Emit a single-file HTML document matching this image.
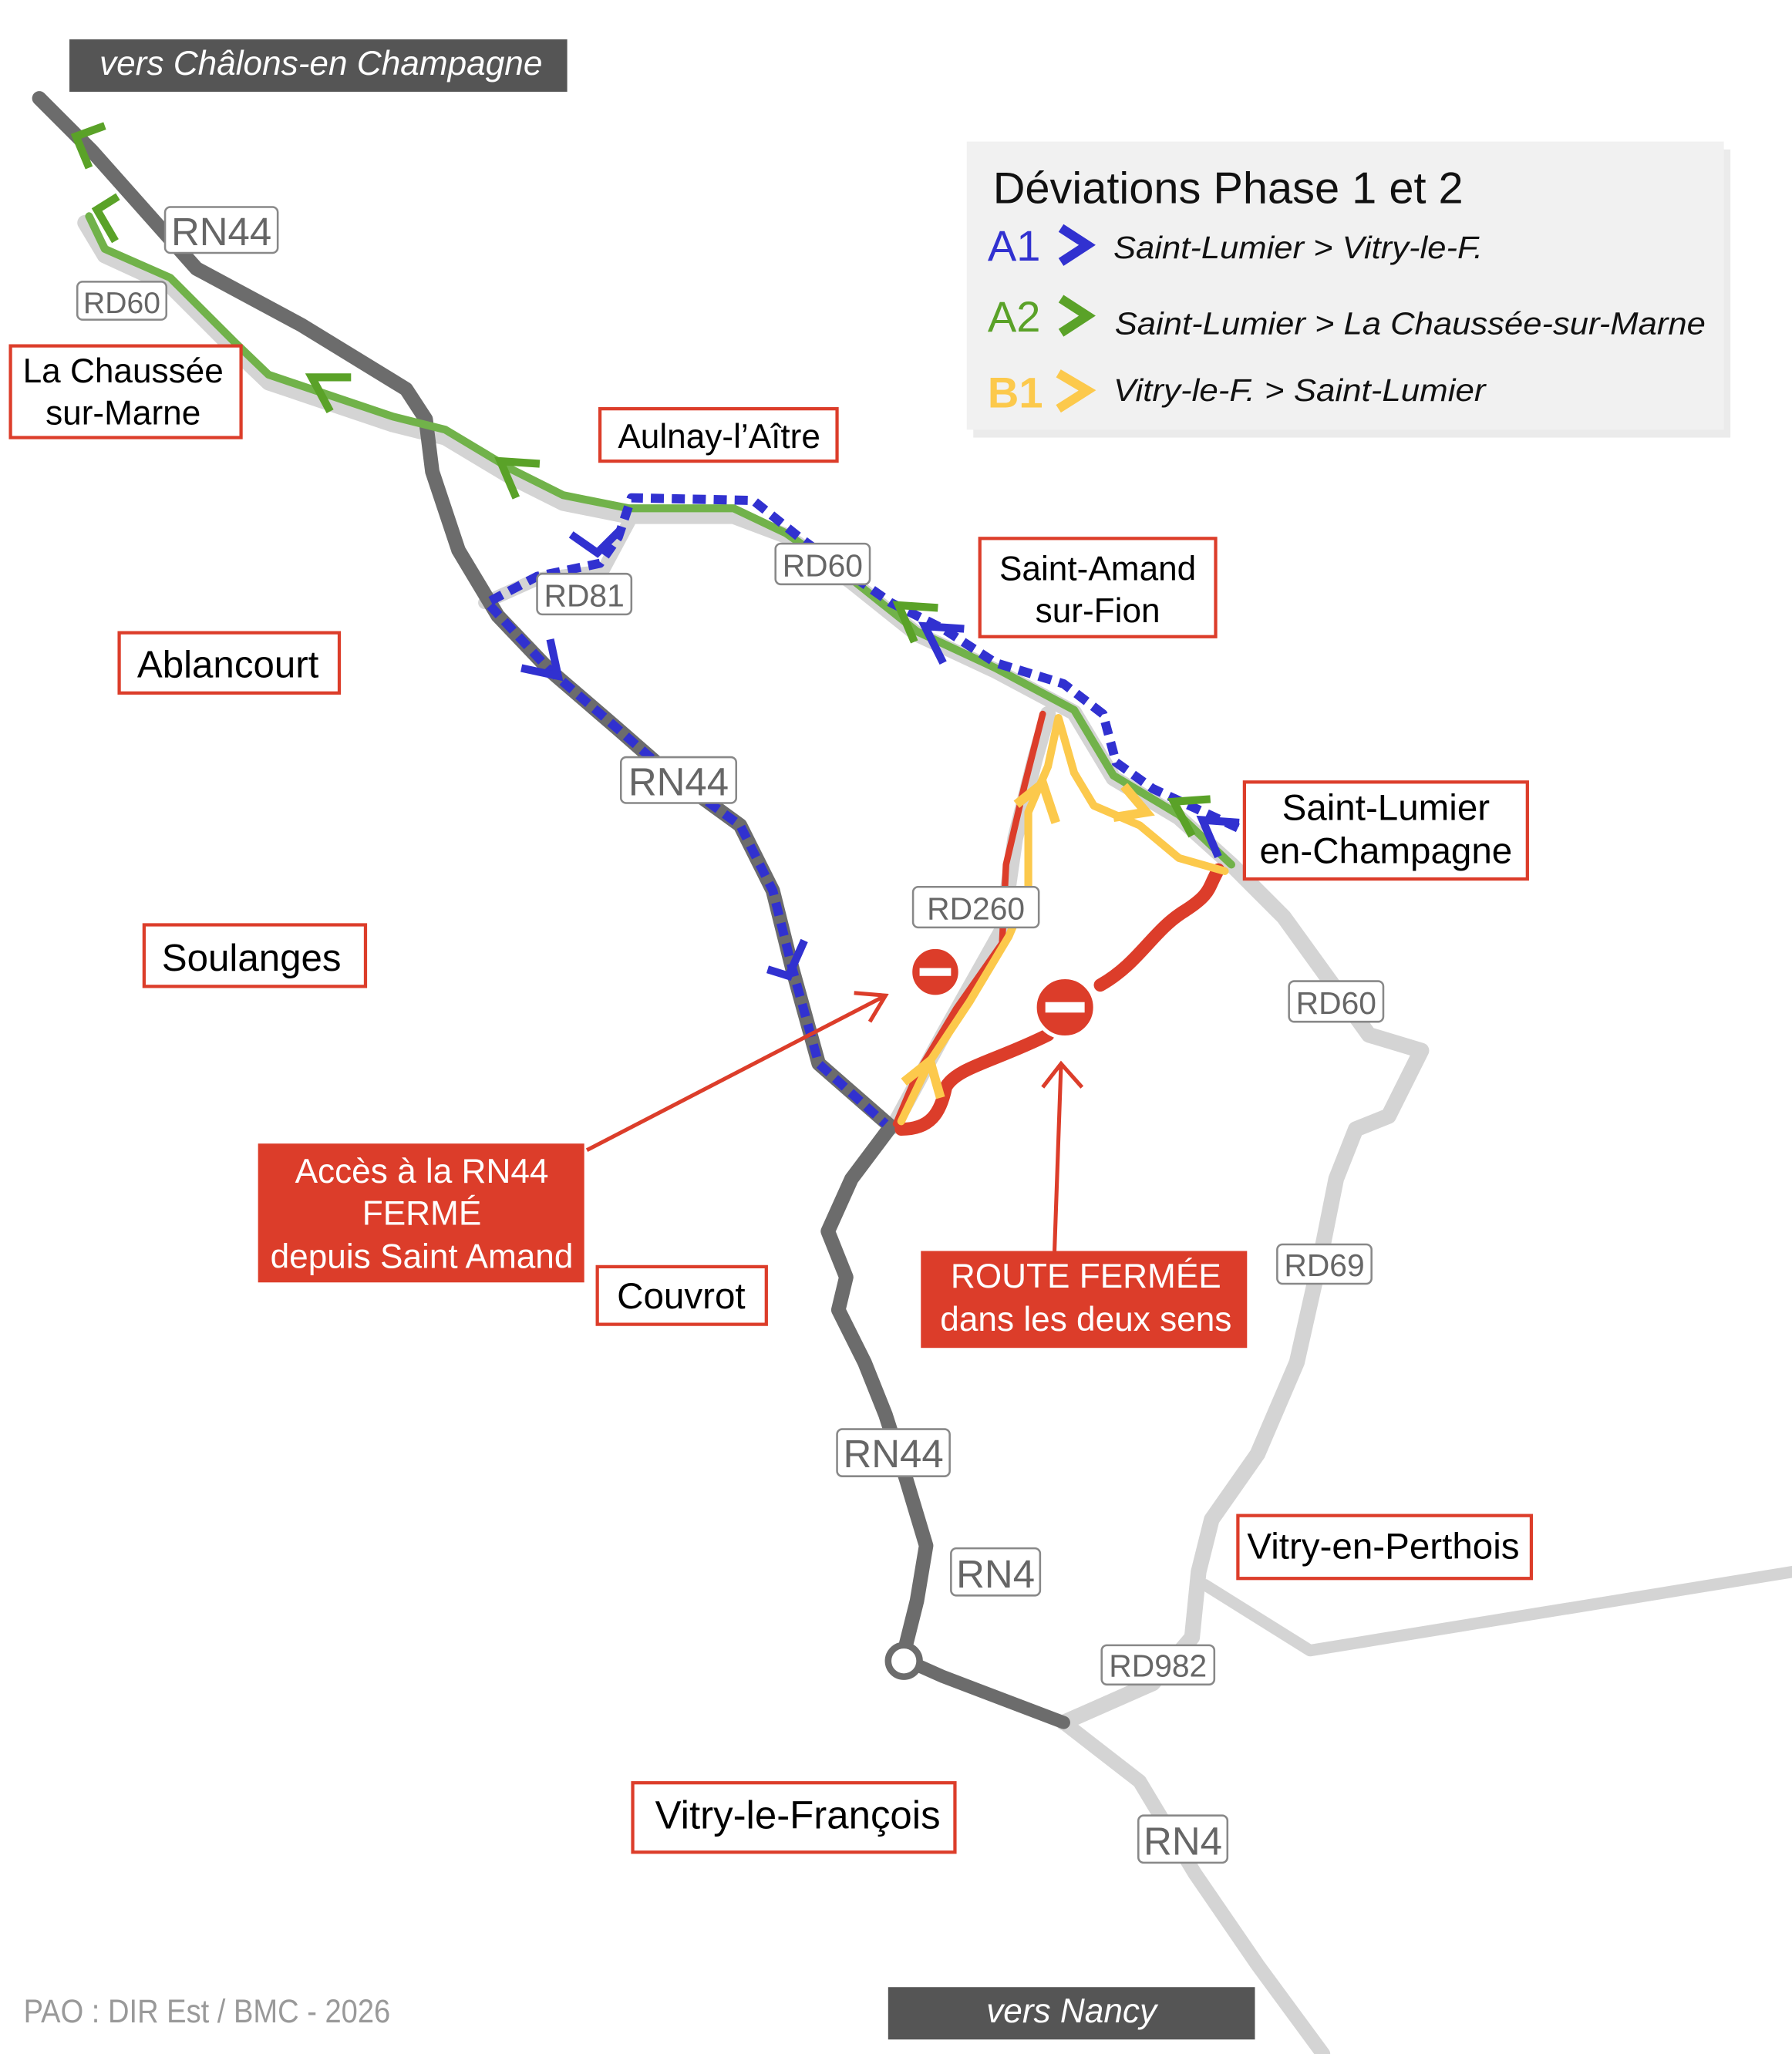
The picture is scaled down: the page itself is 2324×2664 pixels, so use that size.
<!DOCTYPE html>
<html><head><meta charset="utf-8"><style>
html,body{margin:0;padding:0;background:#fff}
svg{display:block}
text{font-family:"Liberation Sans",sans-serif}
</style></head><body>
<svg width="2324" height="2664" viewBox="0 0 1368 1568" xmlns="http://www.w3.org/2000/svg">
<rect width="1368" height="1568" fill="#fff"/>
<g fill="none" stroke-linecap="round" stroke-linejoin="round">
<!-- light roads -->
<path d="M65,170 L80,195 L130,218 L180,268 L205,292 L300,324 L340,334 L390,364 L430,384 L480,394 L560,394 L600,409 L650,444 L700,484 L760,512 L820,544 L850,594 L900,624 L940,660 L980,700 L1045,790 L1085,802 L1060,852 L1035,862 L1020,900 L1008,960 L990,1040 L960,1110 L925,1160 L915,1200 L910,1250 L880,1285 L812,1315" stroke="#d4d4d4" stroke-width="12"/>
<path d="M920,1210 L1000,1260 L1368,1200" stroke="#d4d4d4" stroke-width="9"/>
<path d="M812,1315 L870,1360 L912,1430 L960,1500 L1010,1568" stroke="#d4d4d4" stroke-width="11"/>
<path d="M370,460 L410,442 L460,436 L482,395" stroke="#d4d4d4" stroke-width="10"/>
<path d="M682,860 L720,790 L765,710 L775,640 L790,580 L800,545" stroke="#d4d4d4" stroke-width="12"/>
<!-- RN44 -->
<path d="M30,75 L70,115 L150,205 L230,248 L310,297 L325,320 L330,360 L350,420 L380,470 L420,512 L470,555 L510,590 L565,630 L590,680 L605,740 L625,812 L680,860 L650,900 L632,940 L646,975 L640,1000 L660,1040 L676,1080 L692,1130 L707,1180 L700,1222 L690,1262" stroke="#6c6c6c" stroke-width="11"/>
<path d="M702,1272 L720,1280 L812,1315" stroke="#6c6c6c" stroke-width="10"/>
<!-- green -->
<path d="M940,660 L900,622 L850,592 L820,542 L760,510 L700,482 L650,442 L600,407 L560,388 L480,388 L430,378 L390,358 L340,328 L300,318 L205,286 L180,262 L130,212 L80,190 L68,165" stroke="#71b24a" stroke-width="6"/>
<!-- blue dotted -->
<path d="M945,632 L880,602 L852,582 L842,545 L812,522 L760,506 L720,480 L680,460 L640,432 L610,410 L575,382 L482,380 L472,410 L458,430 L410,440 L372,460 L420,512 L470,555 L510,590 L565,630 L590,680 L605,740 L625,812 L676,858" stroke="#3131d0" stroke-width="7" stroke-dasharray="10,6" stroke-linecap="butt"/>
<!-- red -->
<path d="M684,858 L700,820 L730,770 L765,720 L768,660 L782,600 L796,545" stroke="#dc3d2a" stroke-width="5"/>
<path d="M688,862 C710,862 718,850 722,830 C730,815 760,810 800,790 M840,752 C870,735 880,710 905,695 C925,682 922,678 930,664" stroke="#dc3d2a" stroke-width="10"/>
<!-- yellow -->
<path d="M688,856 L710,810 L740,765 L770,715 L785,680 L785,620 L800,585 L808,548 L820,590 L835,615 L870,630 L900,655 L935,665" stroke="#fcc94c" stroke-width="6"/>
</g>
<!-- arrowheads -->
<g fill="none" stroke-width="6">
<path d="M80,96 L58,104 L68,128" stroke="#5aa228"/>
<path d="M90,150 L74,160 L88,184" stroke="#5aa228"/>
<path d="M268,288 L238,288 L252,314" stroke="#5aa228"/>
<path d="M412,354 L382,352 L394,380" stroke="#5aa228"/>
<path d="M716,464 L686,462 L698,490" stroke="#5aa228"/>
<path d="M924,610 L896,612 L910,638" stroke="#5aa228"/>
<path d="M736,480 L706,478 L720,506" stroke="#3131d0"/>
<path d="M946,628 L918,626 L930,654" stroke="#3131d0"/>
<path d="M474,404 L456,422 L436,408" stroke="#3131d0"/>
<path d="M398,510 L426,516 L420,488" stroke="#3131d0"/>
<path d="M586,740 L602,745 L614,718" stroke="#3131d0"/>
<path d="M776,614 L796,598 L806,628" stroke="#fcc94c" stroke-width="7"/>
<path d="M690,826 L710,810 L718,838" stroke="#fcc94c" stroke-width="7"/>
<path d="M850,624 L875,620 L858,600" stroke="#fcc94c" stroke-width="7"/>
</g>
<circle cx="690" cy="1268" r="12" fill="#fff" stroke="#6c6c6c" stroke-width="5"/>
<!-- no entry -->
<g><circle cx="714" cy="742" r="19" fill="#dc3d2a" stroke="#fff" stroke-width="3"/><rect x="702" y="739" width="24" height="6" fill="#fff"/>
<circle cx="813" cy="769" r="23" fill="#dc3d2a" stroke="#fff" stroke-width="3"/><rect x="798" y="765" width="30" height="8" fill="#fff"/></g>
<!-- red callout arrows -->
<g stroke="#dc3d2a" stroke-width="3" fill="none">
<path d="M448,878 L676,760 M652,758 L676,760 L664,780"/>
<path d="M805,955 L810,812 M796,830 L810,812 L826,830"/>
</g>
<!-- road labels -->
<g font-size="27" fill="#666" text-anchor="middle">
<g stroke="#888" stroke-width="1.5" fill="#fff">
<rect x="126" y="158" width="86" height="35" rx="4"/><rect x="59" y="215" width="68" height="29" rx="4"/>
<rect x="592" y="415" width="72" height="31" rx="4"/><rect x="410" y="438" width="72" height="31" rx="4"/>
<rect x="474" y="578" width="88" height="35" rx="4"/><rect x="697" y="677" width="96" height="31" rx="4"/>
<rect x="984" y="749" width="72" height="31" rx="4"/><rect x="975" y="950" width="72" height="30" rx="4"/>
<rect x="639" y="1091" width="86" height="36" rx="4"/><rect x="726" y="1182" width="68" height="36" rx="4"/>
<rect x="841" y="1256" width="86" height="30" rx="4"/><rect x="869" y="1386" width="68" height="36" rx="4"/>
</g>
<text x="169" y="187" font-size="30">RN44</text><text x="93" y="239" font-size="23">RD60</text>
<text x="628" y="440" font-size="24">RD60</text><text x="446" y="463" font-size="24">RD81</text>
<text x="518" y="607" font-size="30">RN44</text><text x="745" y="702" font-size="24">RD260</text>
<text x="1020" y="774" font-size="24">RD60</text><text x="1011" y="974" font-size="24">RD69</text>
<text x="682" y="1120" font-size="30">RN44</text><text x="760" y="1212" font-size="30">RN4</text>
<text x="884" y="1280" font-size="24">RD982</text><text x="903" y="1416" font-size="30">RN4</text>
</g>
<!-- town labels -->
<g fill="#fff" stroke="#dc3d2a" stroke-width="2.5">
<rect x="8" y="264" width="176" height="70"/><rect x="458" y="312" width="181" height="40"/>
<rect x="748" y="411" width="180" height="75"/><rect x="91" y="483" width="168" height="46"/>
<rect x="950" y="597" width="216" height="74"/><rect x="110" y="706" width="169" height="47"/>
<rect x="456" y="967" width="129" height="44"/><rect x="945" y="1157" width="224" height="48"/>
<rect x="483" y="1361" width="246" height="53"/>
</g>
<g font-size="26" fill="#000" text-anchor="middle">
<text x="94" y="292">La Chaussée</text><text x="94" y="324">sur-Marne</text>
<text x="549" y="342">Aulnay-l’Aître</text>
<text x="838" y="443">Saint-Amand</text><text x="838" y="475">sur-Fion</text>
<text x="174" y="517" font-size="29">Ablancourt</text>
<text x="1058" y="626" font-size="28">Saint-Lumier</text><text x="1058" y="659" font-size="28">en-Champagne</text>
<text x="192" y="741" font-size="29">Soulanges</text>
<text x="520" y="999" font-size="28">Couvrot</text>
<text x="1056" y="1190" font-size="28">Vitry-en-Perthois</text>
<text x="609" y="1396" font-size="30">Vitry-le-François</text>
</g>
<!-- red boxes -->
<rect x="197" y="873" width="249" height="106" fill="#dc3d2a"/>
<rect x="703" y="955" width="249" height="74" fill="#dc3d2a"/>
<g font-size="26" fill="#fff" text-anchor="middle">
<text x="322" y="903">Accès à la RN44</text><text x="322" y="935">FERMÉ</text><text x="322" y="968">depuis Saint Amand</text>
<text x="829" y="983">ROUTE FERMÉE</text><text x="829" y="1016">dans les deux sens</text>
</g>
<!-- dark banners -->
<rect x="53" y="30" width="380" height="40" fill="#555"/>
<text x="245" y="57" font-size="26" fill="#fff" font-style="italic" text-anchor="middle">vers Châlons-en Champagne</text>
<rect x="678" y="1517" width="280" height="40" fill="#555"/>
<text x="818" y="1544" font-size="26" fill="#fff" font-style="italic" text-anchor="middle">vers Nancy</text>
<text x="18" y="1544" font-size="25" fill="#999" textLength="280" lengthAdjust="spacingAndGlyphs">PAO : DIR Est / BMC - 2026</text>
<!-- legend -->
<rect x="743" y="114" width="578" height="220" fill="#ddd" opacity="0.6"/>
<rect x="738" y="108" width="578" height="220" fill="#f1f1f1"/>
<text x="758" y="155" font-size="34" fill="#111">Déviations Phase 1 et 2</text>
<text x="754" y="199" font-size="33" fill="#3131d0">A1</text>
<text x="754" y="253" font-size="33" fill="#5aa228">A2</text>
<text x="754" y="311" font-size="33" fill="#fcc94c" font-weight="bold">B1</text>
<g fill="none" stroke-width="7"><path d="M810,174 L830,187 L810,200" stroke="#3131d0"/><path d="M810,228 L830,241 L810,254" stroke="#5aa228"/><path d="M808,285 L830,298 L808,312" stroke="#fcc94c"/></g>
<g font-size="24" font-style="italic" fill="#111"><text x="850" y="197" textLength="282" lengthAdjust="spacingAndGlyphs">Saint-Lumier &gt; Vitry-le-F.</text><text x="851" y="255" textLength="451" lengthAdjust="spacingAndGlyphs">Saint-Lumier &gt; La Chaussée-sur-Marne</text><text x="850" y="306" textLength="284" lengthAdjust="spacingAndGlyphs">Vitry-le-F. &gt; Saint-Lumier</text></g>
</svg>
</body></html>
